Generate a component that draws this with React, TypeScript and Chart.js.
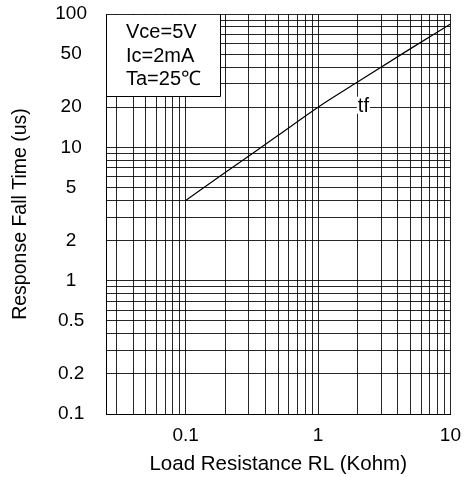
import { useEffect, useRef } from "react";
import { Chart, registerables } from "chart.js";

Chart.register(...registerables);

// Fall time versus load resistance
const RL_KOHM = [0.1, 0.2, 0.5, 1, 2, 5, 10];
const FALL_TIME_US = [4.0, 6.5, 12.3, 20, 31, 55, 84];

// Log grid lines and the ones that carry a label
const X_GRID = [
  0.03, 0.04, 0.05, 0.06, 0.07, 0.08, 0.09,
  0.1, 0.2, 0.3, 0.4, 0.5, 0.6, 0.7, 0.8, 0.9,
  1, 2, 3, 4, 5, 6, 7, 8, 9, 10,
];
const X_LABELS = [0.1, 1, 10];
const Y_GRID = [
  0.1, 0.2, 0.3, 0.4, 0.5, 0.6, 0.7, 0.8, 0.9,
  1, 2, 3, 4, 5, 6, 7, 8, 9,
  10, 20, 30, 40, 50, 60, 70, 80, 90, 100,
];
const Y_LABELS = [0.1, 0.2, 0.5, 1, 2, 5, 10, 20, 50, 100];

const CONDITIONS = ["Vce=5V", "Ic=2mA", "Ta=25\u2103"];
const CURVE_LABEL = "tf";
const CURVE_LABEL_AT = { x: 2.2, y: 18.5 };

const FONT = '"Liberation Sans", Arial, Helvetica, sans-serif';

const conditionsBox = {
  id: "conditionsBox",
  beforeDatasetsDraw(chart: any) {
    const { ctx, chartArea } = chart;
    const x0 = Math.round(chartArea.left);
    const y0 = Math.round(chartArea.top);
    const w = 114;
    const h = 82;
    ctx.save();
    ctx.fillStyle = "#fff";
    ctx.fillRect(x0 + 1, y0 + 1, w - 1, h - 1);
    ctx.strokeStyle = "#000";
    ctx.lineWidth = 1;
    ctx.beginPath();
    ctx.moveTo(x0 + w + 0.5, y0);
    ctx.lineTo(x0 + w + 0.5, y0 + h + 0.5);
    ctx.lineTo(x0, y0 + h + 0.5);
    ctx.stroke();
    ctx.fillStyle = "#000";
    ctx.font = `20px ${FONT}`;
    ctx.textAlign = "left";
    ctx.textBaseline = "alphabetic";
    const baselines = [24, 48, 71];
    CONDITIONS.forEach((t, i) => ctx.fillText(t, x0 + 20, y0 + baselines[i]));
    ctx.restore();
  },
  afterDatasetsDraw(chart: any) {
    const { ctx, scales } = chart;
    const px = scales.x.getPixelForValue(CURVE_LABEL_AT.x);
    const py = scales.y.getPixelForValue(CURVE_LABEL_AT.y);
    ctx.save();
    ctx.font = `20px ${FONT}`;
    const tw = ctx.measureText(CURVE_LABEL).width;
    ctx.fillStyle = "#fff";
    ctx.fillRect(px - tw / 2 - 1, py - 15, tw + 2, 17);
    ctx.fillStyle = "#000";
    ctx.textAlign = "center";
    ctx.textBaseline = "alphabetic";
    ctx.fillText(CURVE_LABEL, px, py);
    ctx.restore();
  },
};

export default function App() {
  const canvasRef = useRef<HTMLCanvasElement | null>(null);

  useEffect(() => {
    const canvas = canvasRef.current;
    if (!canvas) return;
    const gridColor = "rgba(0,0,0,0.85)";
    const chart = new Chart(canvas, {
      type: "line",
      data: {
        datasets: [
          {
            label: CURVE_LABEL,
            data: RL_KOHM.map((x, i) => ({ x, y: FALL_TIME_US[i] })),
            borderColor: "#000",
            borderWidth: 1.2,
            pointRadius: 0,
            cubicInterpolationMode: "monotone",
            fill: false,
          },
        ],
      },
      options: {
        responsive: false,
        maintainAspectRatio: false,
        devicePixelRatio: 1,
        animation: false,
        layout: { padding: { left: 0, right: 17, top: 14, bottom: 0 } },
        plugins: {
          legend: { display: false },
          tooltip: { enabled: false },
        },
        scales: {
          x: {
            type: "logarithmic",
            min: 0.025,
            max: 10,
            afterBuildTicks: (scale: any) => {
              scale.ticks = X_GRID.map((value) => ({ value }));
            },
            afterFit: (scale: any) => {
              scale.height = 63;
            },
            ticks: {
              autoSkip: false,
              maxRotation: 0,
              padding: 10,
              color: "#000",
              font: { family: FONT, size: 19 },
              callback: (v: any) => (X_LABELS.includes(Number(v)) ? String(v) : ""),
            },
            grid: { color: gridColor, lineWidth: 1, drawTicks: false },
            border: { display: true, color: "#000", width: 1 },
            title: {
              display: true,
              text: "Load Resistance RL (Kohm)",
              color: "#000",
              font: { family: FONT, size: 20.5 },
              padding: { top: 0, bottom: 0 },
            },
          },
          y: {
            type: "logarithmic",
            min: 0.1,
            max: 100,
            afterBuildTicks: (scale: any) => {
              scale.ticks = Y_GRID.map((value) => ({ value }));
            },
            afterFit: (scale: any) => {
              scale.width = 106;
              // the label gap is horizontal only; keep the plot edges where the layout puts them
              scale.paddingTop = 0;
              scale.paddingBottom = 0;
            },
            ticks: {
              autoSkip: false,
              padding: 19,
              crossAlign: "center",
              color: "#000",
              font: { family: FONT, size: 19 },
              callback: (v: any) => (Y_LABELS.includes(Number(v)) ? String(v) : ""),
            },
            grid: { color: gridColor, lineWidth: 1, drawTicks: false },
            border: { display: true, color: "#000", width: 1 },
            title: {
              display: true,
              text: "Response Fall Time (us)",
              color: "#000",
              font: { family: FONT, size: 19.5 },
              padding: { top: 9, bottom: 0 },
            },
          },
        },
      },
      plugins: [conditionsBox],
    });
    return () => chart.destroy();
  }, []);

  return (
    <div style={{ position: "fixed", left: 0, top: 0, width: 471, height: 477, background: "#fff" }}>
      <canvas ref={canvasRef} width={471} height={477} style={{ display: "block" }} />
    </div>
  );
}
